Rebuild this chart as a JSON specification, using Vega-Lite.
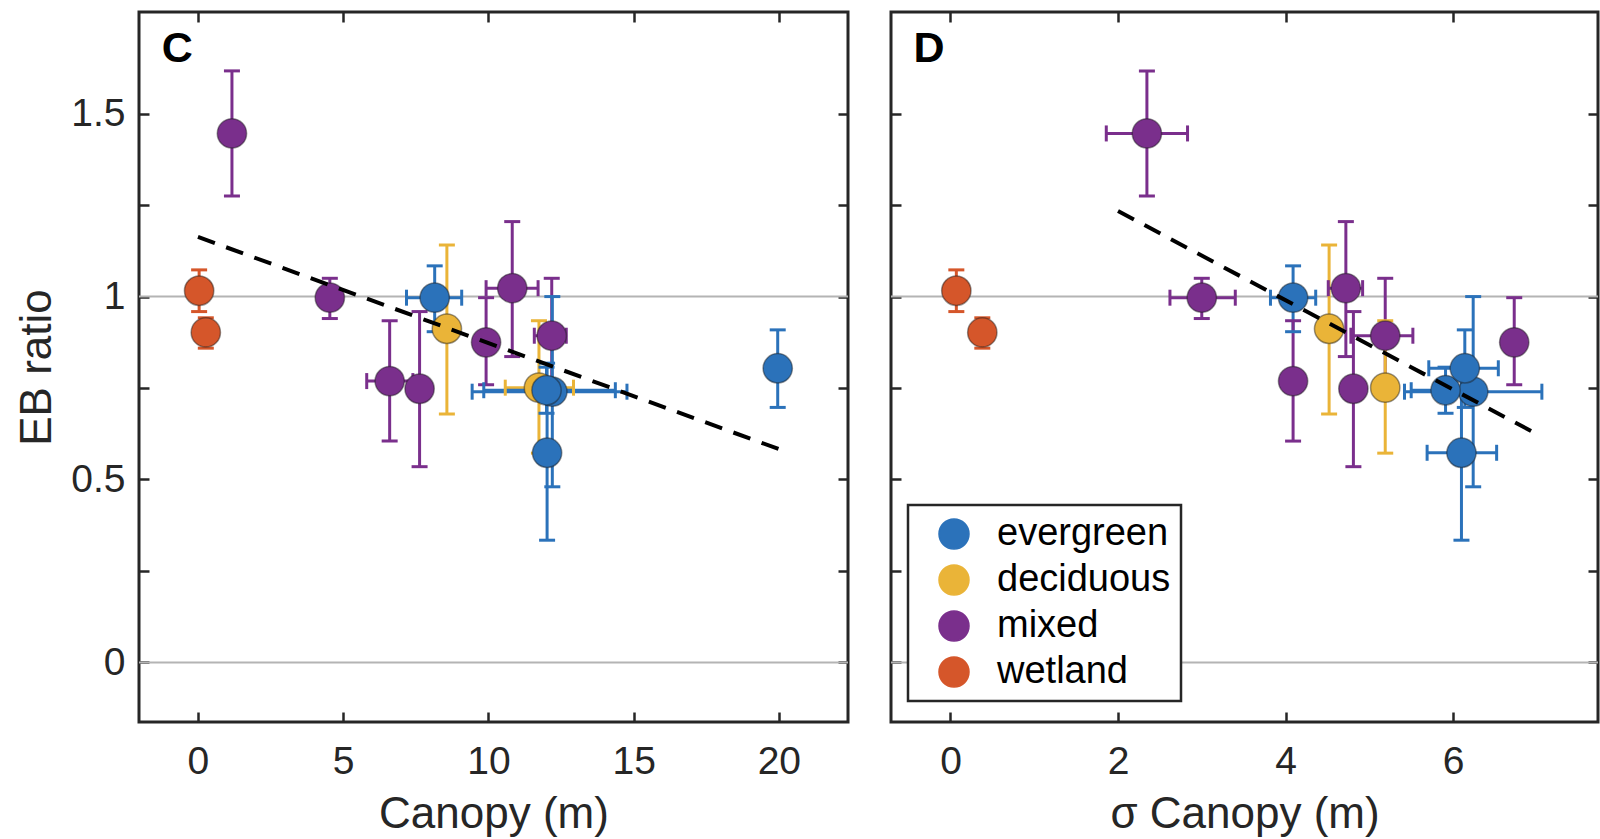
{
  "$schema": "https://vega.github.io/schema/vega-lite/v6.json",
  "padding": {"left": 14, "top": 9, "right": 0, "bottom": 0},
  "background": "white",
  "datasets": {
    "sites": [
      {"t": "wetland", "c": 0.04, "c_lo": 0.04, "c_hi": 0.04, "s": 0.07, "s_lo": 0.07, "s_hi": 0.07, "eb": 1.016, "eb_lo": 0.959, "eb_hi": 1.073},
      {"t": "wetland", "c": 0.27, "c_lo": 0.27, "c_hi": 0.27, "s": 0.38, "s_lo": 0.38, "s_hi": 0.38, "eb": 0.902, "eb_lo": 0.859, "eb_hi": 0.942},
      {"t": "mixed", "c": 1.17, "c_lo": 1.17, "c_hi": 1.17, "s": 2.345, "s_lo": 1.86, "s_hi": 2.83, "eb": 1.446, "eb_lo": 1.275, "eb_hi": 1.617},
      {"t": "mixed", "c": 4.54, "c_lo": 4.54, "c_hi": 4.54, "s": 3.0, "s_lo": 2.62, "s_hi": 3.4, "eb": 0.997, "eb_lo": 0.94, "eb_hi": 1.05},
      {"t": "evergreen", "c": 8.15, "c_lo": 7.18, "c_hi": 9.08, "s": 4.09, "s_lo": 3.82, "s_hi": 4.36, "eb": 0.997, "eb_lo": 0.904, "eb_hi": 1.084},
      {"t": "deciduous", "c": 8.57, "c_lo": 8.57, "c_hi": 8.57, "s": 4.52, "s_lo": 4.52, "s_hi": 4.52, "eb": 0.912, "eb_lo": 0.679, "eb_hi": 1.141},
      {"t": "mixed", "c": 10.82, "c_lo": 9.92, "c_hi": 11.71, "s": 4.72, "s_lo": 4.51, "s_hi": 4.92, "eb": 1.023, "eb_lo": 0.836, "eb_hi": 1.205},
      {"t": "mixed", "c": 9.92, "c_lo": 9.92, "c_hi": 9.92, "s": 6.73, "s_lo": 6.73, "s_hi": 6.73, "eb": 0.875, "eb_lo": 0.759, "eb_hi": 0.997},
      {"t": "mixed", "c": 12.18, "c_lo": 11.58, "c_hi": 12.68, "s": 5.19, "s_lo": 4.78, "s_hi": 5.52, "eb": 0.893, "eb_lo": 0.736, "eb_hi": 1.05},
      {"t": "mixed", "c": 6.6, "c_lo": 5.81, "c_hi": 7.4, "s": 4.09, "s_lo": 4.09, "s_hi": 4.09, "eb": 0.769, "eb_lo": 0.605, "eb_hi": 0.934},
      {"t": "mixed", "c": 7.63, "c_lo": 7.63, "c_hi": 7.63, "s": 4.81, "s_lo": 4.81, "s_hi": 4.81, "eb": 0.748, "eb_lo": 0.535, "eb_hi": 0.959},
      {"t": "deciduous", "c": 11.74, "c_lo": 10.58, "c_hi": 12.93, "s": 5.19, "s_lo": 5.19, "s_hi": 5.19, "eb": 0.751, "eb_lo": 0.572, "eb_hi": 0.934},
      {"t": "evergreen", "c": 12.02, "c_lo": 12.02, "c_hi": 12.02, "s": 6.1, "s_lo": 5.69, "s_hi": 6.52, "eb": 0.573, "eb_lo": 0.334, "eb_hi": 0.818},
      {"t": "evergreen", "c": 12.2, "c_lo": 9.44, "c_hi": 14.77, "s": 6.24, "s_lo": 5.42, "s_hi": 7.06, "eb": 0.74, "eb_lo": 0.48, "eb_hi": 1.0},
      {"t": "evergreen", "c": 12.0, "c_lo": 9.84, "c_hi": 14.37, "s": 5.91, "s_lo": 5.5, "s_hi": 6.3, "eb": 0.744, "eb_lo": 0.681, "eb_hi": 0.807},
      {"t": "evergreen", "c": 19.96, "c_lo": 19.96, "c_hi": 19.96, "s": 6.14, "s_lo": 5.71, "s_hi": 6.54, "eb": 0.804, "eb_lo": 0.697, "eb_hi": 0.909}
    ],
    "fitC": [{"x": 0, "y": 1.163}, {"x": 20, "y": 0.583}],
    "fitD": [{"x": 2.0, "y": 1.234}, {"x": 7.0, "y": 0.624}],
    "ref": [{"y": 0}, {"y": 1}],
    "labC": [{"label": "C"}],
    "labD": [{"label": "D"}]
  },
  "spacing": 37,
  "resolve": {"scale": {"color": "independent"}, "legend": {"color": "independent"}},
  "hconcat": [
    {
      "width": 709,
      "height": 710,
      "layer": [
        {"data": {"name": "ref"}, "mark": {"type": "rule", "color": "#b4b4b4", "strokeWidth": 2},
         "encoding": {"y": {"field": "y", "type": "quantitative", "scale": {"domain": [-0.163, 1.778], "nice": false, "zero": false}, "axis": null}}},
        {"data": {"name": "sites"}, "mark": {"type": "rule", "strokeWidth": 3},
         "encoding": {
           "x": {"field": "c", "type": "quantitative", "scale": {"domain": [-2.03, 22.38], "nice": false, "zero": false},
                 "axis": {"orient": "bottom", "values": [0, 5, 10, 15, 20], "title": "Canopy (m)", "labelPadding": 30, "titlePadding": 11}},
           "y": {"field": "eb_lo", "type": "quantitative", "scale": {"domain": [-0.163, 1.778], "nice": false, "zero": false},
                 "axis": {"orient": "left", "values": [0, 0.25, 0.5, 0.75, 1, 1.25, 1.5], "labelExpr": "datum.value % 0.5 === 0 ? '' + datum.value : ''", "title": "EB ratio", "labelPadding": 24, "titlePadding": 11}},
           "y2": {"field": "eb_hi"},
           "color": {"field": "t", "type": "nominal", "scale": {"domain": ["evergreen", "deciduous", "mixed", "wetland"], "range": ["#2B72BA", "#EAB438", "#7A2F8C", "#D5562A"]}, "legend": null}
         }},
        {"data": {"name": "sites"}, "mark": {"type": "rule", "strokeWidth": 3},
         "encoding": {
           "x": {"field": "c_lo", "type": "quantitative", "axis": null},
           "x2": {"field": "c_hi"},
           "y": {"field": "eb", "type": "quantitative", "axis": null},
           "color": {"field": "t", "type": "nominal", "legend": null}
         }},
        {"data": {"name": "sites"}, "mark": {"type": "tick", "orient": "horizontal", "size": 16, "thickness": 3, "opacity": 1},
         "encoding": {"x": {"field": "c", "type": "quantitative", "axis": null}, "y": {"field": "eb_hi", "type": "quantitative", "axis": null}, "color": {"field": "t", "type": "nominal", "legend": null}}},
        {"data": {"name": "sites"}, "mark": {"type": "tick", "orient": "horizontal", "size": 16, "thickness": 3, "opacity": 1},
         "encoding": {"x": {"field": "c", "type": "quantitative", "axis": null}, "y": {"field": "eb_lo", "type": "quantitative", "axis": null}, "color": {"field": "t", "type": "nominal", "legend": null}}},
        {"data": {"name": "sites"}, "mark": {"type": "tick", "orient": "vertical", "size": 16, "thickness": 3, "opacity": 1},
         "encoding": {"x": {"field": "c_lo", "type": "quantitative", "axis": null}, "y": {"field": "eb", "type": "quantitative", "axis": null}, "color": {"field": "t", "type": "nominal", "legend": null}}},
        {"data": {"name": "sites"}, "mark": {"type": "tick", "orient": "vertical", "size": 16, "thickness": 3, "opacity": 1},
         "encoding": {"x": {"field": "c_hi", "type": "quantitative", "axis": null}, "y": {"field": "eb", "type": "quantitative", "axis": null}, "color": {"field": "t", "type": "nominal", "legend": null}}},
        {"data": {"name": "sites"}, "mark": {"type": "point", "shape": "circle", "filled": true, "size": 860, "opacity": 1, "stroke": "#1a1a1a", "strokeOpacity": 0.45, "strokeWidth": 1.5},
         "encoding": {
           "x": {"field": "c", "type": "quantitative", "axis": {"orient": "top", "values": [0, 5, 10, 15, 20], "labels": false, "title": null}},
           "y": {"field": "eb", "type": "quantitative", "axis": {"orient": "right", "values": [0, 0.25, 0.5, 0.75, 1, 1.25, 1.5], "labels": false, "title": null}},
           "color": {"field": "t", "type": "nominal", "legend": null}
         }},
        {"data": {"name": "fitC"}, "mark": {"type": "line", "color": "black", "strokeWidth": 4, "strokeDash": [18, 12]},
         "encoding": {"x": {"field": "x", "type": "quantitative", "axis": null}, "y": {"field": "y", "type": "quantitative", "axis": null}}},
        {"data": {"name": "labC"}, "mark": {"type": "text", "align": "left", "baseline": "alphabetic", "fontSize": 43, "fontWeight": "bold", "font": "Liberation Sans", "color": "black"},
         "encoding": {"text": {"field": "label"}, "x": {"datum": -1.25, "type": "quantitative", "axis": null}, "y": {"datum": 1.64, "type": "quantitative", "axis": null}}}
      ]
    },
    {
      "width": 707,
      "height": 710,
      "layer": [
        {"data": {"name": "ref"}, "mark": {"type": "rule", "color": "#b4b4b4", "strokeWidth": 2},
         "encoding": {"y": {"field": "y", "type": "quantitative", "scale": {"domain": [-0.163, 1.778], "nice": false, "zero": false}, "axis": null}}},
        {"data": {"name": "sites"}, "mark": {"type": "rule", "strokeWidth": 3},
         "encoding": {
           "x": {"field": "s", "type": "quantitative", "scale": {"domain": [-0.71, 7.73], "nice": false, "zero": false},
                 "axis": {"orient": "bottom", "values": [0, 2, 4, 6], "title": "σ Canopy (m)", "labelPadding": 30, "titlePadding": 11}},
           "y": {"field": "eb_lo", "type": "quantitative", "scale": {"domain": [-0.163, 1.778], "nice": false, "zero": false},
                 "axis": {"orient": "left", "values": [0, 0.25, 0.5, 0.75, 1, 1.25, 1.5], "labels": false, "title": null}},
           "y2": {"field": "eb_hi"},
           "color": {"field": "t", "type": "nominal", "scale": {"domain": ["evergreen", "deciduous", "mixed", "wetland"], "range": ["#2B72BA", "#EAB438", "#7A2F8C", "#D5562A"]}}
         }},
        {"data": {"name": "sites"}, "mark": {"type": "rule", "strokeWidth": 3},
         "encoding": {
           "x": {"field": "s_lo", "type": "quantitative", "axis": null},
           "x2": {"field": "s_hi"},
           "y": {"field": "eb", "type": "quantitative", "axis": null},
           "color": {"field": "t", "type": "nominal"}
         }},
        {"data": {"name": "sites"}, "mark": {"type": "tick", "orient": "horizontal", "size": 16, "thickness": 3, "opacity": 1},
         "encoding": {"x": {"field": "s", "type": "quantitative", "axis": null}, "y": {"field": "eb_hi", "type": "quantitative", "axis": null}, "color": {"field": "t", "type": "nominal"}}},
        {"data": {"name": "sites"}, "mark": {"type": "tick", "orient": "horizontal", "size": 16, "thickness": 3, "opacity": 1},
         "encoding": {"x": {"field": "s", "type": "quantitative", "axis": null}, "y": {"field": "eb_lo", "type": "quantitative", "axis": null}, "color": {"field": "t", "type": "nominal"}}},
        {"data": {"name": "sites"}, "mark": {"type": "tick", "orient": "vertical", "size": 16, "thickness": 3, "opacity": 1},
         "encoding": {"x": {"field": "s_lo", "type": "quantitative", "axis": null}, "y": {"field": "eb", "type": "quantitative", "axis": null}, "color": {"field": "t", "type": "nominal"}}},
        {"data": {"name": "sites"}, "mark": {"type": "tick", "orient": "vertical", "size": 16, "thickness": 3, "opacity": 1},
         "encoding": {"x": {"field": "s_hi", "type": "quantitative", "axis": null}, "y": {"field": "eb", "type": "quantitative", "axis": null}, "color": {"field": "t", "type": "nominal"}}},
        {"data": {"name": "sites"}, "mark": {"type": "point", "shape": "circle", "filled": true, "size": 860, "opacity": 1, "stroke": "#1a1a1a", "strokeOpacity": 0.45, "strokeWidth": 1.5},
         "encoding": {
           "x": {"field": "s", "type": "quantitative", "axis": {"orient": "top", "values": [0, 2, 4, 6], "labels": false, "title": null}},
           "y": {"field": "eb", "type": "quantitative", "axis": {"orient": "right", "values": [0, 0.25, 0.5, 0.75, 1, 1.25, 1.5], "labels": false, "title": null}},
           "color": {"field": "t", "type": "nominal",
                     "legend": {"orient": "none", "legendX": 17, "legendY": 493, "title": null, "padding": 10, "symbolOffset": 17, "labelOffset": 24, "labelFontSize": 38, "labelLimit": 0, "labelFont": "Liberation Sans", "labelColor": "black", "symbolSize": 900, "symbolType": "circle", "rowPadding": 8, "strokeColor": "#262626", "fillColor": "white", "symbolStrokeWidth": 1.5, "symbolStrokeColor": "#4a4a4a", "symbolOpacity": 1}}
         }},
        {"data": {"name": "fitD"}, "mark": {"type": "line", "color": "black", "strokeWidth": 4, "strokeDash": [18, 12]},
         "encoding": {"x": {"field": "x", "type": "quantitative", "axis": null}, "y": {"field": "y", "type": "quantitative", "axis": null}}},
        {"data": {"name": "labD"}, "mark": {"type": "text", "align": "left", "baseline": "alphabetic", "fontSize": 43, "fontWeight": "bold", "font": "Liberation Sans", "color": "black"},
         "encoding": {"text": {"field": "label"}, "x": {"datum": -0.44, "type": "quantitative", "axis": null}, "y": {"datum": 1.64, "type": "quantitative", "axis": null}}}
      ]
    }
  ],
  "config": {
    "font": "Liberation Sans",
    "view": {"stroke": "#262626", "strokeWidth": 3},
    "axis": {"domain": false, "grid": false, "tickColor": "#262626", "tickWidth": 2.5, "tickSize": -10,
             "labelFont": "Liberation Sans", "labelFontSize": 39, "labelColor": "#262626",
             "titleFont": "Liberation Sans", "titleFontSize": 44, "titleFontWeight": "normal", "titleColor": "#262626"},
    "legend": {"strokeWidth": 2.5}
  }
}
